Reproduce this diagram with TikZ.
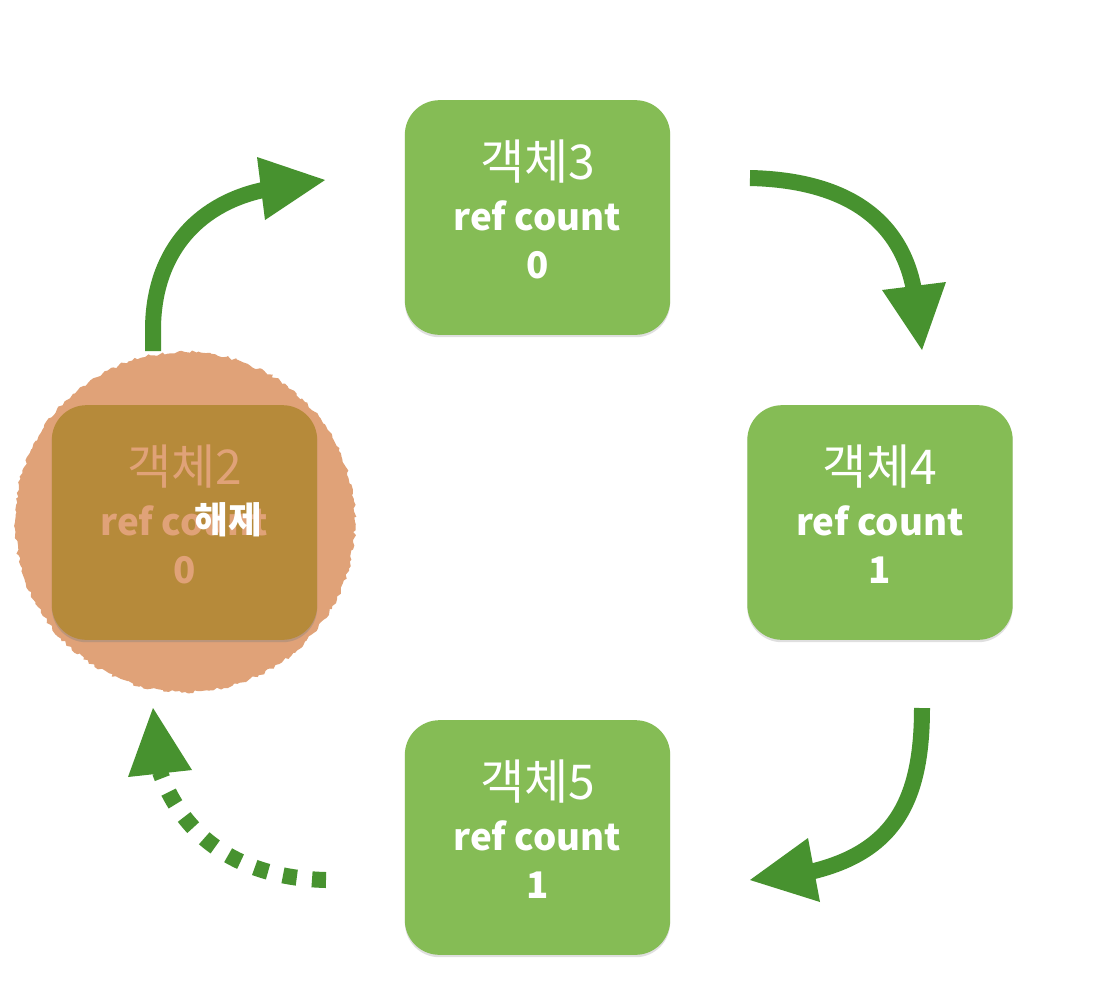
\documentclass[tikz,border=0pt]{standalone}
\usepackage{fontspec}
\newfontfamily\kr{Noto Sans CJK KR}
\usetikzlibrary{shadows,decorations.pathmorphing}
\definecolor{boxgreen}{HTML}{85BC55}
\definecolor{arrowgreen}{HTML}{47922F}
\definecolor{salmon}{HTML}{E0A278}
\definecolor{gold}{HTML}{B68A3A}
\tikzset{
  objbox/.style={rounded corners=26pt, minimum width=199pt, minimum height=176pt,
    inner sep=0pt, fill=boxgreen, draw=none,
    drop shadow={shadow xshift=0pt, shadow yshift=-1.8pt, opacity=0.25}},
  titletext/.style={text=white, font=\kr\fontsize{36}{40}\selectfont, inner sep=0pt},
  reftext/.style={text=white, font=\kr\bfseries\fontsize{27.5}{32}\selectfont, inner sep=0pt},
  shaft/.style={draw=arrowgreen, line width=12pt},
  dotshaft/.style={draw=arrowgreen, line width=12pt, dash pattern=on 10.5pt off 11.5pt},
  head/.style={fill=arrowgreen, draw=none}
}
\begin{document}
\begin{tikzpicture}[x=0.75pt,y=-0.75pt]
\useasboundingbox (0,0) rectangle (1114,1004);
\fill[white] (0,0) rectangle (1114,1004);

% released object 2 with circle
\node[circle, minimum size=255pt, inner sep=0pt, fill=salmon,
  decorate, decoration={random steps, segment length=2.5pt, amplitude=1.2pt}] (circ) at (185,522) {};
\node[objbox, fill=gold, drop shadow={shadow xshift=0pt, shadow yshift=-1.8pt, opacity=0.15}] (b2) at (184.5,522.5) {};
\node[titletext, text=salmon] (b2t) at ([yshift=56*0.75pt]b2.center) {객체2};
\node[reftext, text=salmon] (b2r) at ([yshift=2*0.75pt]b2.center) {ref count};
\node[reftext, text=salmon] (b2n) at ([yshift=-48*0.75pt]b2.center) {0};
\node[reftext] (rel) at (228,520) {해제};

% object 3
\node[objbox] (b3) at (537.5,217.5) {};
\node[titletext] (b3t) at ([yshift=56*0.75pt]b3.center) {객체3};
\node[reftext] (b3r) at ([yshift=2*0.75pt]b3.center) {ref count};
\node[reftext] (b3n) at ([yshift=-48*0.75pt]b3.center) {0};

% object 4
\node[objbox] (b4) at (880,522.5) {};
\node[titletext] (b4t) at ([yshift=56*0.75pt]b4.center) {객체4};
\node[reftext] (b4r) at ([yshift=2*0.75pt]b4.center) {ref count};
\node[reftext] (b4n) at ([yshift=-48*0.75pt]b4.center) {1};

% object 5
\node[objbox] (b5) at (537.5,837.5) {};
\node[titletext] (b5t) at ([yshift=56*0.75pt]b5.center) {객체5};
\node[reftext] (b5r) at ([yshift=2*0.75pt]b5.center) {ref count};
\node[reftext] (b5n) at ([yshift=-48*0.75pt]b5.center) {1};

% arrow 2 -> 3
\coordinate (a1s) at (153,351);
\coordinate (a1e) at (263,190);
\draw[shaft] (a1s) -- (153,330) .. controls (153,255) and (195,205) .. (a1e);
\fill[head] (257,157) -- (325,180) -- (265,220) -- cycle;

% arrow 3 -> 4
\coordinate (a2s) at (750,178);
\coordinate (a2e) at (914,290);
\draw[shaft] (a2s) .. controls (840,180) and (900,215) .. (a2e);
\fill[head] (882,290) -- (946,282) -- (922,350) -- cycle;

% arrow 4 -> 5
\coordinate (a3s) at (922,708);
\coordinate (a3e) at (810,872);
\draw[shaft] (a3s) .. controls (922,800) and (895,852) .. (a3e);
\fill[head] (808,838) -- (820,902) -- (750,880) -- cycle;

% dotted arrow 5 -> 2
\coordinate (a4s) at (326,880);
\coordinate (a4e) at (160,772);
\draw[dotshaft] (a4s) .. controls (245,878) and (185,842) .. (a4e);
\fill[head] (128,777) -- (192,770) -- (153,708) -- cycle;
\end{tikzpicture}
\end{document}
